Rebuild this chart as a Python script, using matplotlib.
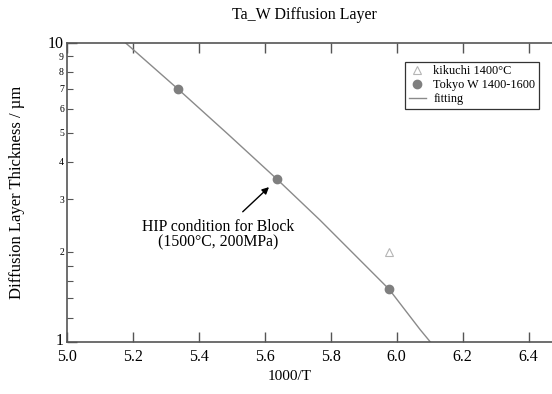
import matplotlib
matplotlib.use('Agg')
import matplotlib.pyplot as plt
import matplotlib.transforms as mtransforms
from matplotlib.ticker import FixedLocator, FixedFormatter, NullFormatter

plt.rcParams['font.family'] = ['Liberation Serif', 'DejaVu Serif']

# data
kikuchi_x = [5.977]
kikuchi_y = [2.0]

tokyo_x = [5.338, 5.638, 5.977]
tokyo_y = [7.0, 3.5, 1.5]

fit_x = [5.177, 5.338, 5.488, 5.638, 5.768, 5.977, 6.071, 6.102]
fit_y = [10.0, 6.98, 4.95, 3.49, 2.55, 1.50, 1.10, 1.0]

x_ticks = [5.0, 5.2, 5.4, 5.6, 5.8, 6.0, 6.2, 6.4, 6.6]
x_tick_labels = ['5.0', '5.2', '5.4', '5.6', '5.8', '6.0', '6.2', '6.4', '']
y_major = [1, 10]
y_minor = [1.2, 1.4, 1.6, 1.8, 2, 3, 4, 5, 6, 7, 8, 9]
y_minor_labels = ['', '', '', '', '2', '3', '4', '5', '6', '7', '8', '9']

W, H = 552, 394
fig = plt.figure(figsize=(W / 100, H / 100), dpi=100)
# axes runs past the right edge of the picture, like the reference crop
ax = fig.add_axes([66.7 / W, 1 - 342 / H, (594.7 - 66.7) / W, (342 - 42.5) / H])

spine_col = '#555555'
ax.plot(fit_x, fit_y, color='#8a8a8a', lw=1.0, label='fitting', zorder=2)
ax.plot(tokyo_x, tokyo_y, 'o', color='#7f7f7f', ms=6, label='Tokyo W 1400-1600', zorder=3)
ax.plot(kikuchi_x, kikuchi_y, '^', mfc='white', mec='#b5b5b5', mew=0.8, ms=6,
        label='kikuchi 1400°C', zorder=3)

ax.set_yscale('log')
ax.set_xlim(5.0, 6.6)
ax.set_ylim(1, 10)

ax.xaxis.set_major_locator(FixedLocator(x_ticks))
ax.xaxis.set_major_formatter(FixedFormatter(x_tick_labels))
ax.yaxis.set_major_locator(FixedLocator(y_major))
ax.yaxis.set_major_formatter(FixedFormatter(['1', '10']))
ax.yaxis.set_minor_locator(FixedLocator(y_minor))
ax.yaxis.set_minor_formatter(FixedFormatter(y_minor_labels))
ax.xaxis.set_minor_formatter(NullFormatter())

ax.tick_params(axis='x', which='major', direction='in', top=True, length=7,
               width=1, color=spine_col, labelsize=11.5, pad=5)
ax.tick_params(axis='y', which='major', direction='in', right=True, length=7,
               width=1, color=spine_col, labelsize=11.5, pad=2)
ax.tick_params(axis='y', which='minor', direction='in', right=True, length=4,
               width=0.8, color=spine_col, labelsize=7, pad=2)

for s in ax.spines.values():
    s.set_color(spine_col)
    s.set_linewidth(1.2)

# lift the "1" label a little so it sits above "5.0"
lift = mtransforms.ScaledTranslation(0, 3 / 100, fig.dpi_scale_trans)
ylab_one = ax.yaxis.get_majorticklabels()[0]
ylab_one.set_transform(ylab_one.get_transform() + lift)

fig.text(304 / W, 1 - 15 / H, 'Ta_W Diffusion Layer', ha='center', va='center', fontsize=11.5)
fig.text(17 / W, 1 - 192 / H, 'Diffusion Layer Thickness / µm', rotation=90,
         ha='center', va='center', fontsize=12)
fig.text(290 / W, 1 - 377 / H, '1000/T', ha='center', va='center', fontsize=11)

ax.annotate('HIP condition for Block\n(1500°C, 200MPa)',
            xy=(tokyo_x[1] - 0.025, tokyo_y[1] * 0.94), xytext=(218 / W, 1 - 235 / H),
            textcoords='figure fraction', ha='center', va='center', fontsize=11.3,
            linespacing=0.95,
            arrowprops=dict(arrowstyle='-|>', color='black', lw=1.0,
                            mutation_scale=10, shrinkA=5, shrinkB=0))

handles, labels = ax.get_legend_handles_labels()
order = [2, 1, 0]
leg = ax.legend([handles[i] for i in order], [labels[i] for i in order],
                loc='upper left', bbox_to_anchor=(405 / W, 1 - 61.7 / H),
                bbox_transform=fig.transFigure, fontsize=8.8, frameon=True,
                fancybox=False, edgecolor='black', handlelength=1.4,
                handletextpad=0.6, borderpad=0.3, labelspacing=0.15,
                borderaxespad=0)
leg.get_frame().set_linewidth(0.9)

fig.savefig('out.png', dpi=100)
